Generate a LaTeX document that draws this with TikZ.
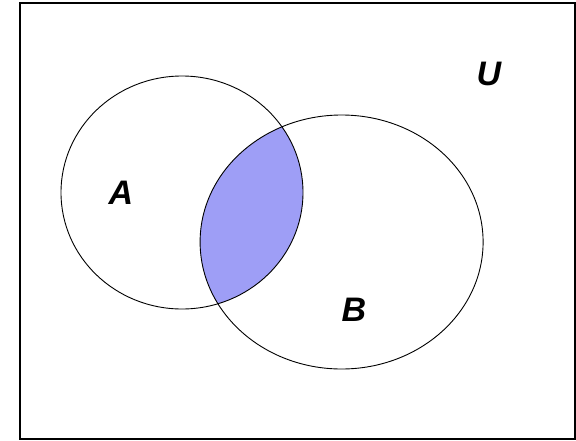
\documentclass[tikz,border=0pt]{standalone}
\usepackage{fontspec}
\setmainfont{Liberation Sans}
\usetikzlibrary{positioning}
\definecolor{lensblue}{RGB}{158,158,246}

\begin{document}
\begin{tikzpicture}[
  x=1pt, y=-1pt,
  setline/.style={draw=black, line width=0.9pt},
  setlbl/.style={font=\fontsize{34}{34}\selectfont\bfseries\itshape, inner sep=0pt},
]
\useasboundingbox (0,0) rectangle (576,440);

% --- universe ---
\draw[line width=1.6pt] (20,3) rectangle (575,439);

% --- shaded part (A and B) ---
\begin{scope}
  \clip (182,192.5) ellipse [x radius=121, y radius=116.5];
  \fill[lensblue] (341.6,242) ellipse [x radius=141.5, y radius=127];
\end{scope}

% --- sets ---
\draw[setline] (182,192.5) ellipse [x radius=121, y radius=116.5];
\draw[setline] (341.6,242) ellipse [x radius=141.5, y radius=127];

\node[setlbl] (lblA) at (121,193) {A};
\node[setlbl] (lblB) at (354,310) {B};
\node[setlbl] (lblU) at (489,74) {U};

\end{tikzpicture}
\end{document}
